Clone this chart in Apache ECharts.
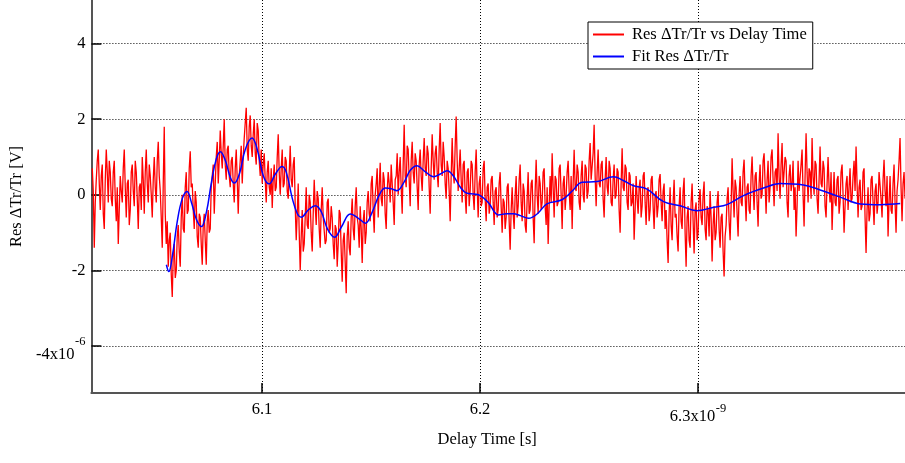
<!DOCTYPE html>
<html>
<head>
<meta charset="utf-8">
<script src="https://cdn.jsdelivr.net/npm/echarts@6/dist/echarts.min.js"></script>
<style>html,body{margin:0;padding:0;background:#fff}#c{width:905px;height:463px}</style>
</head>
<body>
<div id="c"></div>
<script>
// Delay time axis (units of 1e-9 s); residual values in units of 1e-6
const sampleStart = 6.0221;
const sampleStep = 0.0004587;
const resValues = [
0.7,0.1,-1.4,-0.2,0.4,0.9,1.2,0.3,-0.4,0.5,0.8,-0.5,-0.9,0.4,1.2,0.6,-0.2,0.9,0.6,-0.1,
-0.3,0.6,0.9,-0.1,-0.7,0.2,-1.3,-0.4,0.5,0.1,-0.2,0.7,1.2,0.2,-0.6,0.3,0.4,-0.8,-0.4,0.6,
0.8,0.1,-0.3,0.9,0.6,-0.1,-0.9,0.2,0.3,-0.4,1.0,0.4,-0.5,0.6,1.2,0.3,-0.2,0.8,0.5,0.0,
-0.6,0.4,1.0,0.2,-0.2,0.9,1.4,0.5,0.1,-0.6,-1.4,0.3,1.8,-0.5,-1.3,-0.7,-1.9,-1.2,-1.0,-2.1,
-2.7,-1.6,-1.3,-2.2,-2.0,-1.1,-0.8,-1.5,-1.9,-0.6,0.0,-0.9,-1.0,0.2,0.6,-0.5,-0.4,0.7,1.15,0.2,
0.3,-0.4,-0.9,0.1,-0.2,-1.1,-1.4,-0.5,-0.6,-1.3,-1.85,-0.8,-0.5,-1.2,-1.85,-0.7,-0.4,-1.0,-0.9,0.2,
0.2,0.8,-0.5,0.3,1.0,1.4,0.3,0.9,1.7,1.1,0.7,1.3,2.0,0.8,0.4,1.2,1.3,0.5,0.2,0.9,
1.0,0.3,-0.2,0.7,1.2,0.4,-0.5,0.5,0.9,1.3,0.3,1.0,1.5,1.9,2.3,1.2,0.9,1.8,2.1,1.3,
1.0,1.6,2.0,1.1,0.8,1.9,1.7,0.9,0.5,1.2,0.3,0.8,1.1,0.4,-0.2,0.6,0.9,0.2,0.0,0.7,
-0.35,0.4,0.8,0.1,0.2,1.0,1.6,0.6,0.0,0.7,1.2,0.2,0.3,1.0,0.9,0.1,-0.1,0.6,1.3,0.4,
0.2,0.8,1.0,-0.3,-1.2,-0.5,0.3,-1.0,-2.0,-1.1,-0.4,-1.5,-1.3,-0.6,0.2,-0.8,-0.9,0.0,-0.2,-1.0,
-1.5,-0.5,0.4,-0.3,-0.8,0.1,-0.1,-0.9,-1.4,-0.4,0.2,-0.6,-0.6,-1.3,-1.2,-0.2,-0.1,-1.0,-0.9,-0.3,
-0.6,-1.3,-1.7,-0.8,-0.9,-1.9,-1.3,-0.4,-0.5,-1.5,-2.3,-1.2,-1.0,-1.8,-2.6,-1.1,-0.7,-1.4,-1.6,-0.6,
-0.1,-0.9,-1.2,-0.3,0.2,-0.6,-0.8,-1.4,-0.3,-0.9,-1.8,-0.7,-0.4,-1.3,-1.0,-0.2,0.1,-0.5,-0.7,0.3,
0.5,-0.4,-1.0,0.0,0.3,0.7,-0.6,0.2,0.85,-0.1,-0.3,0.6,0.4,-0.5,-0.9,0.1,0.6,0.3,-0.2,0.8,
0.85,-0.2,-0.8,0.4,0.5,1.1,0.0,0.6,1.0,0.2,-0.5,0.8,1.85,0.5,0.2,1.3,1.2,0.4,-0.3,0.9,
1.4,0.6,0.3,1.1,0.9,0.2,-0.4,0.8,1.2,0.5,0.1,0.9,1.5,0.7,0.5,1.3,1.1,0.2,-0.5,0.7,
1.6,0.9,0.4,1.1,1.3,0.6,0.2,1.2,1.9,0.8,0.5,1.4,1.0,0.3,-0.1,0.9,0.7,0.1,-0.7,0.5,
1.5,0.6,0.3,1.3,2.07,0.9,0.1,0.7,1.2,0.4,-0.2,0.8,0.9,0.0,-0.5,0.6,0.7,-0.3,0.1,0.9,
0.8,0.0,-0.4,0.6,1.2,0.2,-0.6,0.3,0.5,-0.3,-0.2,0.7,0.9,-0.1,-0.7,0.2,0.3,-0.5,-0.3,0.4,
0.5,-0.2,-0.8,0.1,0.2,-0.6,-0.4,0.3,0.6,-0.3,-1.0,-0.1,-0.2,-0.9,-0.6,0.2,0.3,-0.7,-1.45,-0.4,
0.2,-0.5,-0.9,0.0,0.5,-0.6,-0.3,0.4,0.8,-0.2,-0.7,0.3,0.1,-0.8,-1.0,-0.1,0.6,-0.5,-0.4,0.3,
0.4,-0.6,-1.28,0.1,0.93,0.0,-0.5,0.5,0.3,-0.4,-0.2,0.6,0.7,-0.3,-0.8,0.2,-1.3,-0.3,0.5,-0.2,
1.1,0.2,-0.6,0.5,0.4,-0.3,-0.2,0.7,0.8,0.0,-0.9,0.3,0.5,-0.4,0.0,0.6,0.9,0.1,-0.4,0.5,
-0.9,0.3,1.19,0.2,0.1,0.8,0.6,-0.2,-0.4,0.5,0.9,0.0,-0.2,0.8,0.7,-0.1,0.1,0.9,1.37,0.4,
0.4,1.1,1.85,0.5,-0.3,0.6,1.2,0.3,0.2,0.8,0.9,-0.1,-0.6,0.4,1.0,0.2,0.0,0.9,0.7,-0.2,
-0.3,0.4,0.8,-0.1,0.0,0.7,0.6,-0.4,-1.0,0.3,1.23,0.2,0.1,0.8,0.7,-0.2,-0.4,0.6,0.5,-0.3,
-0.2,0.3,-1.19,-0.4,0.5,-0.1,-0.5,0.2,0.4,-0.6,-0.3,0.5,0.6,-0.2,-0.8,0.1,0.2,-0.7,-0.4,0.4,
0.5,-0.3,-0.9,0.0,0.1,-0.6,-0.3,0.4,0.55,-0.2,-0.7,0.1,0.3,-0.9,-0.4,-1.2,-1.8,-0.5,0.2,-0.8,
-1.2,-0.2,0.4,-0.6,-0.5,-1.1,-1.5,-0.3,0.2,-0.7,-0.9,0.1,0.45,-1.0,-1.9,-0.6,-0.3,-1.2,-1.4,-0.2,
0.3,-0.7,-1.55,-0.4,-0.2,-1.2,-1.0,-0.1,0.15,-0.6,-0.8,0.0,0.35,-0.9,-1.2,-0.3,-0.4,-1.1,0.1,-0.6,
-1.76,-0.8,-0.3,-1.2,-1.0,-0.2,0.1,-0.9,-1.4,-0.6,-0.5,-1.5,-2.16,-1.1,-0.8,-0.1,0.2,-0.7,-1.2,-0.3,
0.97,0.1,-0.6,0.4,0.2,-0.5,-1.1,0.0,0.5,-0.2,-0.3,0.6,0.93,0.0,-0.7,0.2,0.3,-0.4,-0.5,0.5,
1.01,0.2,-0.4,0.5,0.6,-0.2,-0.84,0.3,0.8,-0.1,0.0,0.9,1.1,0.3,-0.5,0.4,0.9,-0.2,0.2,1.0,
1.2,0.4,-0.3,0.6,0.7,0.1,1.63,0.5,-0.1,0.8,1.37,0.2,0.2,1.0,0.9,-0.2,-0.6,0.5,0.8,0.1,
0.3,0.9,-0.4,0.2,-1.1,-0.3,0.9,0.1,0.1,0.8,1.2,0.0,-0.84,0.5,1.63,0.6,-0.2,0.7,0.6,-0.1,
1.5,0.5,0.0,0.9,0.8,-0.1,-0.5,0.4,1.28,0.3,0.2,0.9,0.7,-0.3,-0.6,0.3,1.0,0.2,-0.2,0.6,
-0.93,-0.1,0.6,-0.2,-0.3,0.4,0.5,-0.5,-0.2,0.6,0.8,0.0,-1.0,-0.3,0.3,0.5,-0.4,0.2,0.7,-0.2,
-0.1,0.5,0.9,0.1,1.28,0.3,-0.6,0.2,0.4,-0.4,-0.3,0.6,0.7,-0.6,-1.54,-0.4,0.2,-0.7,-0.5,0.4,
0.5,-0.2,-0.8,0.1,0.3,-0.5,-0.2,0.6,0.6,-0.1,-0.6,0.4,0.93,0.1,-0.3,0.5,-1.1,-0.2,0.5,-0.4,
-0.5,0.3,0.8,-0.2,-1.0,0.1,0.4,0.9,1.5,0.2,-0.7,0.3,0.6,-0.1
];
const fitTimes = [
6.0561,6.0572,6.0589,6.0611,6.0634,6.0656,6.0676,6.0699,6.0722,6.0745,
6.0767,6.0790,6.0809,6.0832,6.0855,6.0873,6.0896,6.0923,6.0954,6.0978,
6.1006,6.1033,6.1061,6.1092,6.1111,6.1139,6.1162,6.1180,6.1212,6.1245,
6.1272,6.1300,6.1333,6.1364,6.1405,6.1442,6.1474,6.1506,6.1538,6.1566,
6.1593,6.1619,6.1653,6.1680,6.1711,6.1745,6.1787,6.1818,6.1849,6.1878,
6.1910,6.1937,6.1974,6.2001,6.2038,6.2085,6.2121,6.2154,6.2185,6.2223,
6.2263,6.2307,6.2376,6.2423,6.2468,6.2537,6.2613,6.2657,6.2705,6.2766,
6.2842,6.2919,6.2995,6.3072,6.3133,6.3209,6.3301,6.3378,6.3484,6.3561,
6.3653,6.3745,6.3836,6.3928
];
const fitValues = [
-1.85,-2.03,-1.6,-0.7,-0.1,0.09,-0.2,-0.65,-0.84,-0.45,
0.3,0.95,1.14,0.9,0.45,0.31,0.55,1.2,1.50,1.2,
0.5,0.29,0.55,0.75,0.6,-0.1,-0.5,-0.59,-0.4,-0.29,
-0.45,-0.9,-1.12,-0.85,-0.51,-0.62,-0.75,-0.45,0.0,0.18,
0.16,0.11,0.35,0.65,0.77,0.63,0.48,0.55,0.64,0.5,
0.2,0.05,0.02,-0.02,-0.2,-0.53,-0.5,-0.50,-0.55,-0.62,
-0.5,-0.24,-0.13,0.1,0.33,0.35,0.48,0.38,0.24,0.15,
-0.18,-0.29,-0.42,-0.33,-0.26,-0.02,0.18,0.30,0.26,0.13,
-0.06,-0.24,-0.26,-0.23
];
const xTicks = [6.1, 6.2, 6.3];
const yTicks = [-4, -2, 0, 2, 4];
const seriesNames = ['Res \u0394Tr/Tr vs Delay Time', 'Fit Res \u0394Tr/Tr'];

const resData = resValues.map((v, i) => [sampleStart + i * sampleStep, v]);
const fitData = fitTimes.map((t, i) => [t, fitValues[i]]);

const FONT = 'Liberation Serif';
const FS = 16.5;
const chart = echarts.init(document.getElementById('c'), null, {renderer: 'canvas'});
chart.setOption({
  animation: false,
  backgroundColor: '#fff',
  textStyle: {fontFamily: FONT},
  grid: {left: 91, right: 0, top: 0, bottom: 70, containLabel: false},
  legend: {
    orient: 'vertical',
    left: 588, top: 22,
    padding: [4, 6, 4, 5],
    itemGap: 5,
    itemWidth: 31, itemHeight: 2,
    icon: 'rect',
    backgroundColor: '#fff',
    borderColor: '#000', borderWidth: 1,
    borderRadius: 0,
    textStyle: {fontFamily: FONT, fontSize: FS, color: '#000', padding: [0, 0, 0, 3]},
    data: seriesNames
  },
  xAxis: {
    type: 'value',
    min: 6.0217, max: 6.395,
    name: 'Delay Time [s]',
    nameLocation: 'middle',
    nameGap: 38,
    nameTextStyle: {fontFamily: FONT, fontSize: FS, color: '#000', padding: [0, 22, 0, 0]},
    axisLine: {show: true, onZero: false, lineStyle: {color: '#555', width: 2}},
    axisTick: {show: true, inside: true, length: 10, customValues: xTicks, lineStyle: {color: '#000', width: 1.5}},
    axisLabel: {
      customValues: xTicks,
      margin: 12,
      formatter: function (v) {
        if (Math.abs(v - 6.3) < 1e-6) return '{s|-9}\n{n|6.3x10}';
        return '{p|' + v.toFixed(1) + '}';
      },
      rich: {
        p: {fontFamily: FONT, fontSize: FS, color: '#000', lineHeight: 9},
        n: {fontFamily: FONT, fontSize: FS, color: '#000', lineHeight: 9, padding: [0, 11, 0, 0]},
        s: {fontFamily: FONT, fontSize: 12.5, color: '#000', lineHeight: 7, align: 'right'}
      }
    },
    splitLine: {show: true, lineStyle: {color: '#000', width: 1, type: [1, 2]}}
  },
  yAxis: {
    type: 'value',
    min: -5.24, max: 5.152,
    name: 'Res \u0394Tr/Tr [V]',
    nameLocation: 'middle',
    nameGap: 64,
    nameTextStyle: {fontFamily: FONT, fontSize: FS, color: '#000'},
    axisLine: {show: true, onZero: false, lineStyle: {color: '#555', width: 2}},
    axisTick: {show: true, inside: true, length: 10, customValues: yTicks, lineStyle: {color: '#000', width: 1.5}},
    axisLabel: {
      customValues: yTicks,
      margin: 6,
      formatter: function (v) {
        if (Math.abs(v + 4) < 1e-6) return '{s|-6}\n{n|-4x10}';
        return '{p|' + Math.round(v) + '}';
      },
      rich: {
        p: {fontFamily: FONT, fontSize: FS, color: '#000', lineHeight: 9},
        n: {fontFamily: FONT, fontSize: FS, color: '#000', lineHeight: 9, padding: [0, 11, 0, 0]},
        s: {fontFamily: FONT, fontSize: 12.5, color: '#000', lineHeight: 18, align: 'right'}
      }
    },
    splitLine: {show: true, lineStyle: {color: '#000', width: 1, type: [1, 2]}}
  },
  series: [
    {
      name: seriesNames[0], type: 'line', data: resData,
      showSymbol: false, symbol: 'none', sampling: false,
      lineStyle: {color: '#ff0000', width: 1.3},
      itemStyle: {color: '#ff0000'},
      z: 2
    },
    {
      name: seriesNames[1], type: 'line', data: fitData,
      showSymbol: false, symbol: 'none', smooth: 0.4,
      lineStyle: {color: '#0000ff', width: 1.5},
      itemStyle: {color: '#0000ff'},
      z: 3
    }
  ]
});
</script>
</body>
</html>
